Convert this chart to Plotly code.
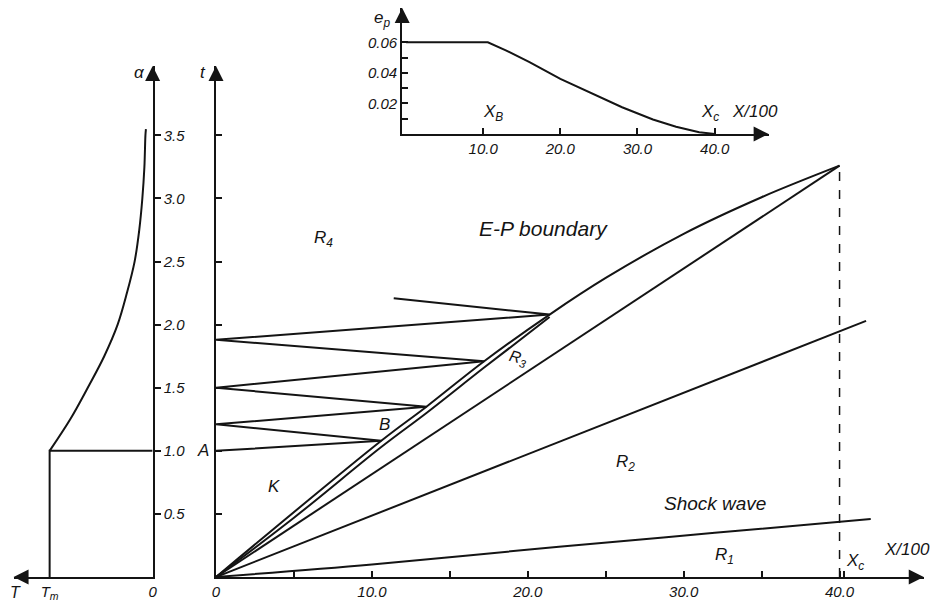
import plotly.graph_objects as go

# ---------------- data ----------------
# main chart (x = X/100, t)
shock_x = [0, 10, 22, 32, 42.0]
shock_t = [0, 0.10, 0.24, 0.35, 0.46]
r2_x = [0, 41.7]
r2_t = [0, 2.03]
r3_x = [0, 40.0]
r3_t = [0, 3.26]
ep_x = [0, 10.6, 13.5, 17.2, 21.4, 25, 30, 35, 40.0]
ep_t = [0, 1.08, 1.35, 1.71, 2.08, 2.37, 2.72, 3.01, 3.26]
band_x = [0, 5, 10.6, 13.5, 17.2, 21.4]
band_t = [0, 0.47, 1.03, 1.30, 1.66, 2.06]
refl_x = [0, 10.6, 0, 13.5, 0, 17.2, 0, 21.4, 11.4]
refl_t = [1.0, 1.08, 1.21, 1.35, 1.50, 1.71, 1.88, 2.08, 2.21]
xc_x = [40.0, 40.0]
xc_t = [0, 3.26]
main_xticks = [0, 10, 20, 30, 40]
main_xlabels = ["0", "10.0", "20.0", "30.0", "40.0"]
main_xminor = [5, 15, 25, 35, 40.3]
t_ticks = [0.5, 1.0, 1.5, 2.0, 2.5, 3.0, 3.5]

# left panel (T reversed, alpha)
step_T = [1.0, 1.0, 0.0]
step_a = [0.0, 1.0, 1.0]
curve_T = [1.0, 0.80, 0.63, 0.47, 0.34, 0.25, 0.175, 0.13, 0.10, 0.08, 0.07, 0.065]
curve_a = [1.0, 1.25, 1.5, 1.75, 2.0, 2.25, 2.5, 2.75, 3.0, 3.25, 3.5, 3.55]
a_ticks = [0.5, 1.0, 1.5, 2.0, 2.5, 3.0, 3.5]
a_labels = ["0.5", "1.0", "1.5", "2.0", "2.5", "3.0", "3.5"]
T_ticks = [0, 1.0]
T_labels = ["0", "T<sub>m</sub>"]

# inset (e_p vs X/100)
ep_inset_x = [0, 10.6, 13, 16, 20, 24, 28, 32, 35, 38, 40]
ep_inset_y = [0.06, 0.06, 0.0545, 0.047, 0.036, 0.0265, 0.0175, 0.0095, 0.0048, 0.0012, 0]
inset_xticks = [10, 20, 30, 40]
inset_xlabels = ["10.0", "20.0", "30.0", "40.0"]
inset_yticks = [0.02, 0.04, 0.06]
inset_ylabels = ["0.02", "0.04", "0.06"]
inset_yminor = [0.01, 0.03, 0.05]

# ---------------- layout constants ----------------
OFF = 8                      # browser body margin
W, H = 943 - OFF, 608 - OFF
INK = "#141414"
FONT = "Liberation Sans"
LW = 2

def px(rx):
    return (rx - OFF) / W

def py(ry):
    return 1 - (ry - OFF) / H

X_RANGE = [0, 45.4]
X_PX = 15.74
T_RANGE = [0, 4.05]
TL_RANGE = [1.35, 0]
IX_RANGE = [-0.5, 47]
IY_RANGE = [0, 0.0824]

fig = go.Figure()

def line(x, y, xa="x", ya="y", dash="solid", width=LW, shape="linear"):
    fig.add_trace(go.Scatter(x=x, y=y, mode="lines", xaxis=xa, yaxis=ya,
                             line=dict(color=INK, width=width, dash=dash, shape=shape),
                             hoverinfo="skip", showlegend=False))

# main chart
line(shock_x, shock_t, shape="spline")
line(r2_x, r2_t)
line(r3_x, r3_t)
line(ep_x, ep_t, shape="spline")
line(band_x, band_t, shape="spline")
line(refl_x, refl_t)
line(xc_x, xc_t, dash="dash", width=1.5)
# left panel
line(step_T, step_a, xa="x2", ya="y2")
line(curve_T, curve_a, xa="x2", ya="y2", shape="spline")
# inset
line(ep_inset_x, ep_inset_y, xa="x3", ya="y3")

# arrow heads at the axis ends
def head(x, y, xa, ya, sym):
    fig.add_trace(go.Scatter(x=[x], y=[y], mode="markers", xaxis=xa, yaxis=ya,
                             marker=dict(symbol=sym, size=15, color=INK,
                                         line=dict(width=0)),
                             cliponaxis=False, hoverinfo="skip", showlegend=False))

head(X_RANGE[1], 0, "x", "y", "arrow-right")
head(0, T_RANGE[1], "x", "y", "arrow-up")
head(0, T_RANGE[1], "x2", "y2", "arrow-up")
head(TL_RANGE[0], 0, "x2", "y2", "arrow-left")
head(IX_RANGE[1], 0, "x3", "y3", "arrow-right")
head(IX_RANGE[0], IY_RANGE[1], "x3", "y3", "arrow-up")

tickfont = dict(family=FONT, size=15, color=INK, style="italic")
axcommon = dict(showline=True, linecolor=INK, linewidth=LW, showgrid=False,
                zeroline=False, tickcolor=INK, tickwidth=1.5, tickfont=tickfont)

y_dom = [py(577), py(66)]

fig.update_layout(
    width=W, height=H, autosize=False,
    margin=dict(l=0, r=0, t=0, b=0),
    paper_bgcolor="white", plot_bgcolor="rgba(0,0,0,0)",
    xaxis=dict(domain=[px(214), px(214 + X_RANGE[1] * X_PX)], range=X_RANGE, anchor="y",
               tickmode="array", tickvals=main_xticks, ticktext=main_xlabels,
               ticks="inside", ticklen=6,
               minor=dict(tickvals=main_xminor, ticks="inside", ticklen=6,
                          tickcolor=INK, tickwidth=1.5),
               **axcommon),
    yaxis=dict(domain=y_dom, range=T_RANGE, anchor="x",
               tickmode="array", tickvals=t_ticks, showticklabels=False,
               ticks="inside", ticklen=6, **axcommon),
    xaxis2=dict(domain=[px(150 - 1.35 * 104), px(150)], range=TL_RANGE, anchor="y2",
                tickmode="array", tickvals=T_ticks, ticktext=T_labels,
                ticks="", **axcommon),
    yaxis2=dict(domain=y_dom, range=T_RANGE, anchor="x2", side="right",
                tickmode="array", tickvals=a_ticks, ticktext=a_labels,
                ticks="outside", ticklen=6, **axcommon),
    xaxis3=dict(domain=[px(402), px(772)], range=IX_RANGE, anchor="y3",
                tickmode="array", tickvals=inset_xticks, ticktext=inset_xlabels,
                ticks="inside", ticklen=6, **axcommon),
    yaxis3=dict(domain=[py(134), py(8)], range=IY_RANGE, anchor="x3",
                tickmode="array", tickvals=inset_yticks, ticktext=inset_ylabels,
                ticks="inside", ticklen=6,
                minor=dict(tickvals=inset_yminor, ticks="inside", ticklen=6,
                           tickcolor=INK, tickwidth=1.5),
                **axcommon),
)

def label(text, x, y, xref="x", yref="y", size=17, angle=0, xs=0, ys=0):
    fig.add_annotation(x=x, y=y, xref=xref, yref=yref, text=text, showarrow=False,
                       textangle=angle, xshift=xs, yshift=ys,
                       font=dict(family=FONT, size=size, color=INK, style="italic"))

label("R<sub>4</sub>", 6.9, 2.68)
label("E-P boundary", 21.0, 2.76, size=21)
label("R<sub>3</sub>", 19.4, 1.73, size=16, angle=15)
label("B", 10.8, 1.21)
label("K", 3.7, 0.72)
label("A", 0, 1.0, xs=-13)
label("R<sub>2</sub>", 26.3, 0.90)
label("Shock wave", 32.0, 0.58, size=19)
label("R<sub>1</sub>", 32.6, 0.17)
label("X<sub>c</sub>", 41.0, 0.12)
label("X/100", 44.3, 0.22)
label("t", 0, T_RANGE[1], xs=-13, ys=-6)
label("α", 0, T_RANGE[1], "x2", "y2", xs=-13, ys=-6)
label("T", TL_RANGE[0], 0, "x2", "y2", size=16, xs=2, ys=-15)
label("e<sub>p</sub>", IX_RANGE[0], 0.075, "x3", "y3", xs=-20)
label("X<sub>B</sub>", 11.3, 0.0135, "x3", "y3")
label("X<sub>c</sub>", 39.4, 0.0135, "x3", "y3")
label("X/100", 45.2, 0.0145, "x3", "y3")

fig.write_html("out.html")
